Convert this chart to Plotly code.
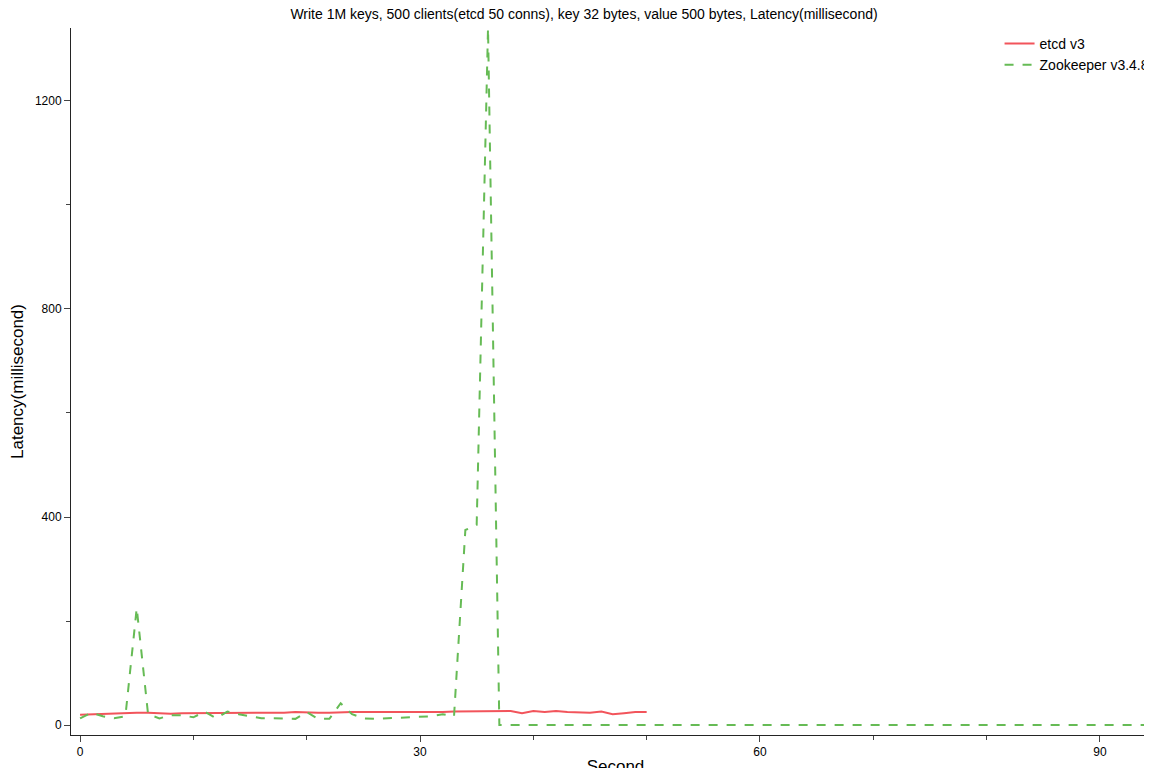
import plotly.graph_objs as go

# Zookeeper latency per second (ms)
zk_sec = list(range(0, 96))
zk_lat = [13, 24, 17, 13, 17, 225, 21, 13, 19, 19, 15, 26, 13, 26, 21, 17, 13, 13, 13, 12,
          25, 12, 12, 42, 21, 13, 12, 13, 14, 15, 15, 17, 21, 17, 375, 385, 1340] + [0] * 58 + [155]

# etcd latency per second (ms)
etcd_sec = list(range(0, 51))
etcd_lat = [20, 21, 22, 22, 23, 24, 24, 23, 22, 23, 23, 23, 24, 24, 23, 23, 24, 24, 24, 25,
            24, 24, 24, 25, 25, 25, 25, 25, 24, 25, 25, 25, 25, 26, 26, 26, 27, 27, 27, 23,
            27, 25, 27, 25, 24, 24, 26, 21, 23, 25, 25]

fig = go.Figure()
fig.add_trace(go.Scatter(x=etcd_sec, y=etcd_lat, mode='lines', name='etcd v3',
                         line=dict(color='#f2545b', width=2)))
fig.add_trace(go.Scatter(x=zk_sec, y=zk_lat, mode='lines', name='Zookeeper v3.4.8',
                         line=dict(color='#66bb55', width=2, dash='dash')))

fig.update_layout(
    width=1152, height=768,
    template='simple_white',
    paper_bgcolor='white', plot_bgcolor='white',
    font=dict(family='Liberation Sans, Arial', size=14, color='#000'),
    title=dict(text='Write 1M keys, 500 clients(etcd 50 conns), key 32 bytes, value 500 bytes, Latency(millisecond)',
               x=0.5, y=0.998, yanchor='top', font=dict(size=14)),
    margin=dict(l=63, r=0, t=20, b=41),
    legend=dict(x=0.995, xanchor='right', y=1.0, yanchor='top', bgcolor='rgba(0,0,0,0)',
                font=dict(size=14), tracegroupgap=0),
)
fig.update_xaxes(range=[-0.8, 95.3], tickvals=[0, 30, 60, 90], ticks='outside', ticklen=6,
                 minor=dict(tickvals=[10, 20, 40, 50, 70, 80], ticks='outside', ticklen=4),
                 title=dict(text='Second'), showgrid=False, zeroline=False,
                 automargin=False, tickfont=dict(size=12))
fig.update_yaxes(range=[-19, 1340], tickvals=[0, 400, 800, 1200], ticks='outside', ticklen=6,
                 minor=dict(tickvals=[200, 600, 1000], ticks='outside', ticklen=4),
                 title=dict(text='Latency(millisecond)'), showgrid=False, zeroline=False,
                 automargin=False, tickfont=dict(size=12))

fig.write_html("out.html")
